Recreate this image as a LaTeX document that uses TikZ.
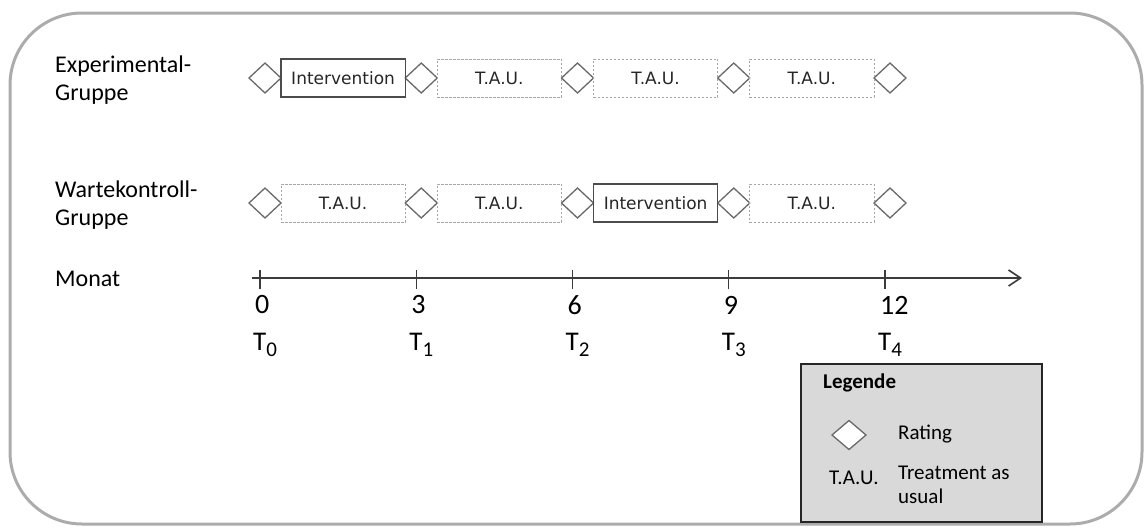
\documentclass[tikz,border=0pt]{standalone}
\usepackage{fontspec}
\setmainfont{Carlito}
\newfontfamily\boxfont{DejaVu Sans}
\usetikzlibrary{arrows.meta, shapes.geometric, positioning}

\definecolor{framegray}{RGB}{172,172,172}
\definecolor{rategray}{RGB}{105,105,105}
\definecolor{taugray}{RGB}{165,165,165}
\definecolor{legendfill}{RGB}{217,217,217}
\definecolor{axisgray}{RGB}{60,60,60}

% T with a large, low index
\newcommand{\tpoint}[1]{T\raisebox{-6pt}{\fontsize{21}{21}\selectfont #1}}

\tikzset{
    frame/.style      = {draw=framegray, line width=3pt, rounded corners=72pt},
    rating/.style     = {diamond, draw=rategray, fill=white, line width=1.3pt,
                         minimum width=32pt, minimum height=30pt,
                         inner sep=0pt, outer sep=0pt},
    interv/.style     = {rectangle, draw=black!70, line width=1.2pt,
                         minimum width=124.25pt, minimum height=38pt,
                         inner sep=0pt, outer sep=0pt,
                         font=\boxfont\fontsize{17}{19}\selectfont, text=black!85},
    tau/.style        = {interv, draw=taugray, line width=0.9pt,
                         dash pattern=on 2.5pt off 1.5pt},
    grouplabel/.style = {anchor=west, align=left, inner sep=0pt,
                         font=\fontsize{24}{28}\selectfont},
    monthlabel/.style = {anchor=west, inner sep=0pt, font=\fontsize{28}{30}\selectfont},
    timelabel/.style  = {anchor=base west, inner sep=0pt, font=\fontsize{27}{30}\selectfont},
    axis/.style       = {draw=axisgray, line width=1.6pt,
                         -{Straight Barb[length=12pt, width=16pt, line width=1.6pt]}},
    tick/.style       = {draw=axisgray, line width=1.4pt},
    legendbox/.style  = {rectangle, draw=black!85, fill=legendfill, line width=1.3pt,
                         minimum width=241pt, minimum height=158pt},
    legendtext/.style = {anchor=west, align=left, inner sep=0pt,
                         font=\fontsize{21}{24}\selectfont}
}

\begin{document}
\begin{tikzpicture}[x=1pt, y=-1pt]
    \useasboundingbox (0,0) rectangle (1144,528);
    \draw[frame] (10,13) rectangle (1142,524);

    % group names
    \node[grouplabel] (eglabel) at (55,80)  {Experimental-\\Gruppe};
    \node[grouplabel] (wglabel) at (55,205) {Wartekontroll-\\Gruppe};
    \node[grouplabel] (monat)   at (55,279) {Monat};

    % ratings every three months
    \foreach \n in {0,...,4} {
        \node[rating] (e\n) at ({265+156.25*\n},78)  {};
        \node[rating] (w\n) at ({265+156.25*\n},203) {};
    }

    \foreach \n/\Kind/\Text [remember=\n as \last (initially 0)] in {%
        1/interv/Intervention,
        2/tau/T.A.U.,
        3/tau/T.A.U.,
        4/tau/T.A.U.%
    }
    \node[\Kind] (eb\n) [right=0pt of e\last] {\Text};

    \foreach \n/\Kind/\Text [remember=\n as \last (initially 0)] in {%
        1/tau/T.A.U.,
        2/tau/T.A.U.,
        3/interv/Intervention,
        4/tau/T.A.U.%
    }
    \node[\Kind] (wb\n) [right=0pt of w\last] {\Text};

    % time axis
    \coordinate (axstart) at (252,278);
    \coordinate (axend)   at (1022,278);
    \draw[axis] (axstart) -- (axend);

    \foreach \n/\Month in {0/0, 1/3, 2/6, 3/9, 4/12} {
        \coordinate (t\n) at ({260+156.25*\n},278);
        \draw[tick] ([yshift=8pt]t\n) -- ([yshift=-11pt]t\n);
        \node[monthlabel] (m\n) at ([xshift=-5pt, yshift=-27pt]t\n) {\Month};
        \node[timelabel]  (T\n) at ([xshift=-7pt, yshift=-72pt]t\n) {\tpoint{\n}};
    }

    % legend
    \node[legendbox] (legend) at (921.5,443) {};
    \node[anchor=west, inner sep=0pt, font=\bfseries\fontsize{21}{24}\selectfont]
        (legtitle) at (823,383) {Legende};
    \node[rating, minimum width=34pt, minimum height=29pt] (legrating) at (849,435) {};
    \node[legendtext] (legratingtext) at (898,434) {Rating};
    \node[legendtext] (legtau) at (829,478) {T.A.U.};
    \node[legendtext] (legtautext) at (898,485) {Treatment as\\usual};
\end{tikzpicture}
\end{document}
